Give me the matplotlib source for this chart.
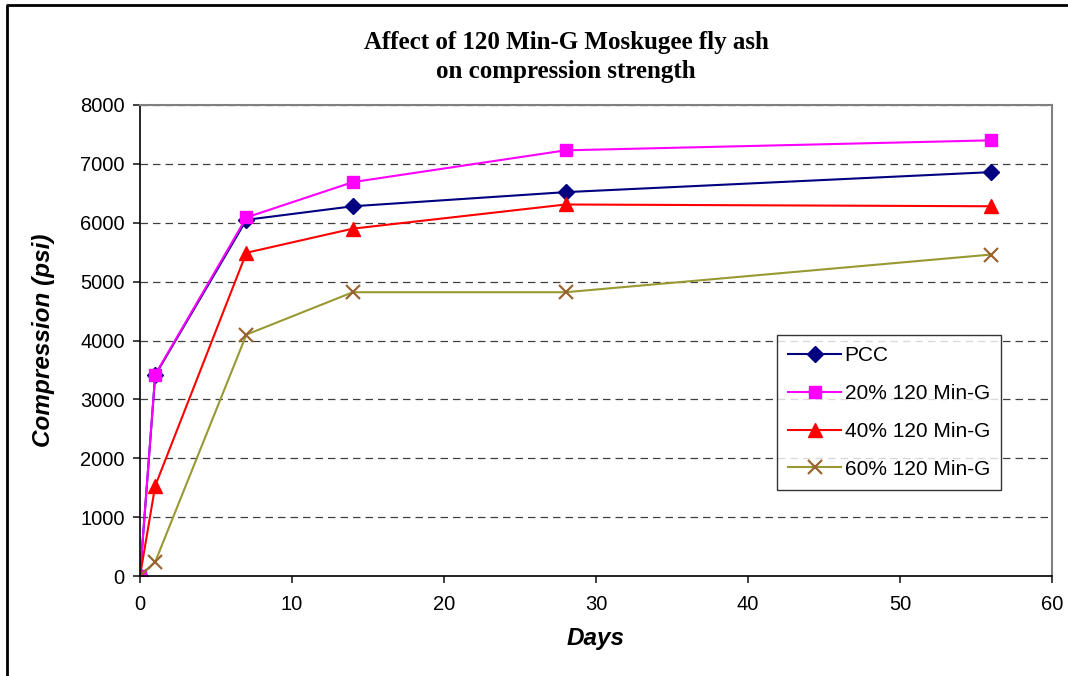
import matplotlib.pyplot as plt
from matplotlib.lines import Line2D

days = [0, 1, 7, 14, 28, 56]
pcc = [0, 3410, 6050, 6280, 6520, 6860]
mg20 = [0, 3420, 6090, 6690, 7230, 7400]
mg40 = [0, 1530, 5490, 5900, 6310, 6280]
mg60 = [0, 240, 4100, 4820, 4820, 5460]

plt.rcParams['font.family'] = ['Liberation Sans', 'DejaVu Sans']

fig = plt.figure(figsize=(10.68, 6.76), dpi=100)
ax = fig.add_axes([140 / 1068, 1 - 576 / 676, (1052 - 140) / 1068, (576 - 105) / 676])

# chart border (only top and left visible in the picture)
fig.lines.append(Line2D([7 / 1068, 7 / 1068, 1.0], [0.0, 1 - 5 / 676, 1 - 5 / 676],
                        transform=fig.transFigure, color='black', lw=2))

ax.plot(days, pcc, color='#000080', marker='D', ms=8, lw=1.5, label='PCC')
ax.plot(days, mg20, color='#FF00FF', marker='s', ms=9, lw=1.5, label='20% 120 Min-G')
ax.plot(days, mg40, color='#FF0000', marker='^', ms=10, lw=1.5, label='40% 120 Min-G')
ax.plot(days, mg60, color='#999933', marker='x', ms=10, mew=1.6, mec='#996633',
        lw=1.5, label='60% 120 Min-G')

ax.set_xlim(0, 60)
ax.set_ylim(0, 8000)
ax.set_xticks(range(0, 61, 10))
ax.set_yticks(range(0, 8001, 1000))
ax.tick_params(labelsize=14.5, direction='out', length=5, width=1.2, colors='#202020',
               labelcolor='black')
ax.tick_params(axis='y', pad=6)
ax.tick_params(axis='x', pad=9)
ax.yaxis.grid(True, linestyle=(0, (6, 4)), color='#404040', lw=0.9)
ax.set_axisbelow(True)

for s in ['top', 'right']:
    ax.spines[s].set_color('#808080')
    ax.spines[s].set_linewidth(1.5)
ax.spines['left'].set_linewidth(1.2)
ax.spines['bottom'].set_linewidth(1.2)

ax.set_xlabel('Days', fontsize=17.5, fontweight='bold', fontstyle='italic', labelpad=9)
ax.set_ylabel('Compression (psi)', fontsize=17.5, fontweight='bold', fontstyle='italic', labelpad=18)

fig.text(566 / 1068, 1 - 57 / 676, 'Affect of 120 Min-G Moskugee fly ash\non compression strength',
         ha='center', va='center', fontsize=18, fontweight='bold',
         family='Liberation Serif', linespacing=1.32)

leg = ax.legend(loc='upper left', bbox_to_anchor=((777 - 140) / 912, (576 - 335) / 471),
                fontsize=15, frameon=True, fancybox=False, edgecolor='black',
                handlelength=2.5, handletextpad=0.2, borderpad=0.55, labelspacing=0.9,
                borderaxespad=0)
leg.get_frame().set_linewidth(1.0)

fig.savefig('out.png', dpi=100)
